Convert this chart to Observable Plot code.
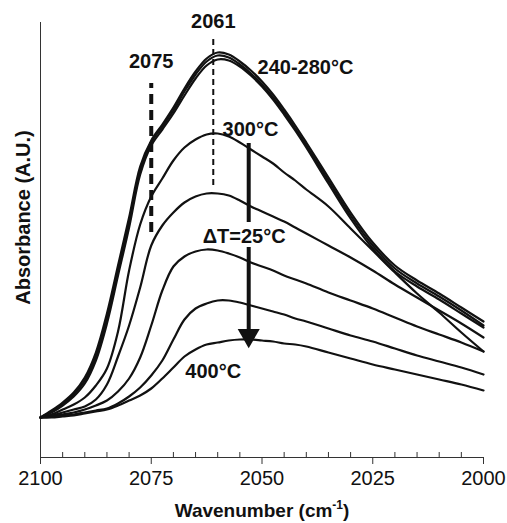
<!DOCTYPE html>
<html><head><meta charset="utf-8">
<script src="https://cdn.jsdelivr.net/npm/d3@7"></script>
<script src="https://cdn.jsdelivr.net/npm/@observablehq/plot@0.6"></script>
<style>body{margin:0;background:#fff} svg{display:block}</style>
</head><body><div id="chart"></div>
<script>
const wavenumber = [2100,2097.5,2095,2092.5,2090,2087.5,2085,2082.5,2080,2077.5,2075,2072.5,2070,2067.5,2065,2062.5,2060,2057.5,2055,2052.5,2050,2047.5,2045,2042.5,2040,2035,2030,2025,2020,2015,2010,2005,2000];
const abs240 = [40,47,55,65,80,105,144,192,240,291,317,333,350,369,386,399,405,403,396,387,376,363,348,332,315,280,245,215,192,177,164,150,136];
const abs260 = [40,46,53,63,77,101,139,187,235,287,315,331,347,366,383,396,402,400,393,384,373,360,345,329,312,277,242,212,189,174,161,147,132];
const abs280 = [40,45,52,61,74,97,134,182,230,283,312,328,344,362,379,392,398,397,391,382,371,358,343,327,310,274,239,209,186,171,158,144,130];
const abs300 = [40,43,48,53,60,72,89,126,187,233,261,279,297,310,318,323,324,321,315,308,301,294,285,277,268,251,229,207,185,164,145,125,106];
const abs325 = [40,42,45,48,51,58,73,101,132,170,212,232,245,255,261,264,264,262,257,251,246,241,236,230,224,212,200,187,173,160,147,134,120];
const abs350 = [40,41,43,45,48,52,57,66,79,100,132,167,191,201,206,208,207,204,200,195,191,187,182,178,174,165,157,149,140,131,123,115,106];
const abs375 = [40,41,42,43,45,47,49,54,61,70,82,97,118,138,149,154,157,157,155,152,149,146,143,139,136,129,122,116,109,102,96,90,83];
const abs400 = [40,40,41,42,44,46,48,52,57,62,69,79,90,101,108,113,115,117,118,118,117,116,114,113,111,105,99,93,88,83,78,73,67];
const seriesNames = ["240°C","260°C","280°C","300°C","325°C","350°C","375°C","400°C"];
const seriesValues = [abs240,abs260,abs280,abs300,abs325,abs350,abs375,abs400];
const majorTicks = [2100,2075,2050,2025,2000];
const minorTicks = [2095,2090,2085,2080,2070,2065,2060,2055,2045,2040,2035,2030,2020,2015,2010,2005];
const centeredLabels = [{label:"2061", wn:2061, a:436},{label:"2075", wn:2075, a:396}];
const leftLabels = [
  {label:"240-280°C", wn:2051, a:390},
  {label:"300°C", wn:2058.9, a:328},
  {label:"ΔT=25°C", wn:2063.4, a:221},
  {label:"400°C", wn:2067.3, a:86}
];
const peak2061 = [{wn:2061, a1:272, a2:420}];
const shoulder2075 = [{wn:2075, a1:225, a2:374}];
const arrowShaft = [{wn:2053, a1:314, a2:235},{wn:2053, a1:210, a2:128}];
const arrowHead = [{wn:2053, a:122}];

const rows = seriesNames.flatMap((s, j) => wavenumber.map((w, i) => ({wn: w, a: seriesValues[j][i], s})));
const font = "'Liberation Sans', Arial, sans-serif";

const chart = Plot.plot({
  width: 507, height: 523,
  marginLeft: 40, marginRight: 24, marginTop: 22, marginBottom: 66,
  style: {fontFamily: font, background: "#fff", color: "#111"},
  x: {domain: [2100, 2000], axis: null},
  y: {domain: [0, 435], axis: null},
  marks: [
    Plot.ruleX([2100], {stroke: "#333", strokeWidth: 1}),
    Plot.ruleY([0], {stroke: "#333", strokeWidth: 1}),
    Plot.ruleX(majorTicks, {x: d => d, y1: 0, y2: -7, stroke: "#333"}),
    Plot.ruleX(minorTicks, {x: d => d, y1: 0, y2: 5, stroke: "#333"}),
    Plot.text(majorTicks, {x: d => d, y: -21, text: d => String(d), fontSize: 20, fill: "#111"}),
    Plot.text(["Wavenumber (cm-1)"], {x: 2050, y: -53, text: d => d, fontSize: 19, fontWeight: "bold", fill: "#111"}),
    Plot.text(["Absorbance (A.U.)"], {x: 2103.8, y: 240, text: d => d, rotate: -90, fontSize: 20, fontWeight: "bold", fill: "#111"}),
    Plot.ruleX(peak2061, {x: "wn", y1: "a1", y2: "a2", strokeWidth: 2, strokeDasharray: "6,4", stroke: "#111"}),
    Plot.ruleX(shoulder2075, {x: "wn", y1: "a1", y2: "a2", strokeWidth: 4, strokeDasharray: "10,6", stroke: "#111"}),
    Plot.line(rows, {x: "wn", y: "a", z: "s", stroke: "#111", strokeWidth: 2.2, curve: "catmull-rom"}),
    Plot.ruleX(arrowShaft, {x: "wn", y1: "a1", y2: "a2", strokeWidth: 4, stroke: "#111"}),
    Plot.dot(arrowHead, {x: "wn", y: "a", symbol: "triangle", r: 8.2, rotate: 180, fill: "#111", stroke: "none"}),
    Plot.text(centeredLabels, {x: "wn", y: "a", text: "label", fontSize: 20, fontWeight: "bold", fill: "#111"}),
    Plot.text(leftLabels, {x: "wn", y: "a", text: "label", textAnchor: "start", fontSize: 20, fontWeight: "bold", fill: "#111"})
  ]
});
document.getElementById("chart").appendChild(chart);
chart.querySelectorAll("text").forEach(t => {
  if (t.textContent === "Wavenumber (cm-1)") {
    const ns = "http://www.w3.org/2000/svg";
    const target = t.querySelector("tspan") || t;
    target.textContent = "Wavenumber (cm";
    const sup = document.createElementNS(ns, "tspan");
    sup.setAttribute("dy", "-8"); sup.setAttribute("font-size", "12"); sup.textContent = "-1";
    const close = document.createElementNS(ns, "tspan");
    close.setAttribute("dy", "8"); close.textContent = ")";
    target.appendChild(sup); target.appendChild(close);
  }
});
</script>
</body></html>
